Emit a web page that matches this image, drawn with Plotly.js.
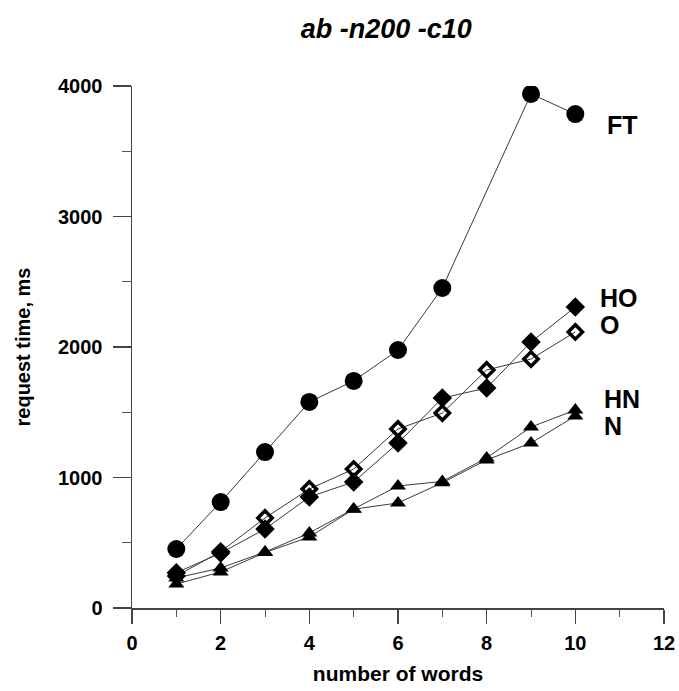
<!DOCTYPE html>
<html>
<head>
<meta charset="utf-8">
<script src="https://cdn.plot.ly/plotly-3.0.1.min.js"></script>
<style>
html, body { margin: 0; padding: 0; background: #fff; }
#chart { width: 679px; height: 691px; }
</style>
</head>
<body>
<div id="chart"></div>
<script>
// Data
var words = [1, 2, 3, 4, 5, 6, 7, 8, 9, 10];
var ftWords = [1, 2, 3, 4, 5, 6, 7, 9, 10];
var ftTime = [452, 812, 1195, 1579, 1740, 1977, 2452, 3939, 3785];
var hoTime = [270, 421, 605, 851, 966, 1264, 1609, 1686, 2038, 2307];
var oTime  = [245, 432, 690, 912, 1065, 1372, 1494, 1824, 1908, 2115];
var hnTime = [230, 307, 429, 575, 759, 935, 970, 1150, 1387, 1517];
var nTime  = [184, 276, 425, 544, 757, 805, 960, 1135, 1264, 1471];

var seriesLabels = ["FT", "HO", "O", "HN", "N"];
var labelX = [10.67, 10.51, 10.51, 10.6, 10.6];
var labelY = [3701, 2375, 2169, 1602, 1395];

var xTicks = [0, 2, 4, 6, 8, 10, 12];
var yTicks = [0, 1000, 2000, 3000, 4000];

var FONT = "Liberation Sans, Arial, sans-serif";
var lineStyle = { color: "#3a3a3a", width: 1 };

var traces = [
  { x: words, y: nTime, name: "N", mode: "lines+markers", line: lineStyle,
    marker: { symbol: "triangle-up", size: 14, color: "#000" } },
  { x: words, y: hnTime, name: "HN", mode: "lines+markers", line: lineStyle,
    marker: { symbol: "triangle-up", size: 14, color: "#000" } },
  { x: words, y: oTime, name: "O", mode: "lines+markers", line: lineStyle,
    marker: { symbol: "diamond-open", size: 11, color: "#000", line: { width: 3.5, color: "#000" } } },
  { x: words, y: hoTime, name: "HO", mode: "lines+markers", line: lineStyle,
    marker: { symbol: "diamond", size: 15, color: "#000" } },
  { x: ftWords, y: ftTime, name: "FT", mode: "lines+markers", line: lineStyle,
    marker: { symbol: "circle", size: 18, color: "#000" } }
];

var annotations = seriesLabels.map(function (t, i) {
  return { x: labelX[i], y: labelY[i], xref: "x", yref: "y", text: t,
    showarrow: false, xanchor: "left", yanchor: "middle",
    font: { family: FONT, size: 25, color: "#000", weight: "bold" } };
});

var layout = {
  width: 679, height: 691,
  margin: { l: 132, r: 15, t: 86, b: 83 },
  paper_bgcolor: "#fff", plot_bgcolor: "#fff",
  showlegend: false,
  font: { family: FONT, color: "#000" },
  title: { text: "<b><i>ab -n200 -c10</i></b>", x: 0.478, xref: "paper", xanchor: "center",
    y: 0.958, yref: "container", yanchor: "middle",
    font: { family: FONT, size: 27, color: "#000" } },
  xaxis: {
    range: [0, 12], tickvals: xTicks, ticktext: xTicks.map(String),
    showgrid: false, zeroline: false, showline: true, linecolor: "#444", linewidth: 1.5,
    ticks: "outside", ticklen: 14, tickwidth: 1.5, tickcolor: "#444",
    ticklabelstandoff: 2,
    minor: { dtick: 1, ticks: "outside", ticklen: 7, tickwidth: 1, tickcolor: "#555", showgrid: false },
    tickfont: { family: FONT, size: 20, color: "#000", weight: "bold" },
    title: { text: "<b>number of words</b>", standoff: 14, font: { family: FONT, size: 21, color: "#000" } }
  },
  yaxis: {
    range: [0, 4000], tickvals: yTicks, ticktext: yTicks.map(String),
    showgrid: false, zeroline: false, showline: true, linecolor: "#444", linewidth: 1.5,
    ticks: "outside", ticklen: 18, tickwidth: 1.5, tickcolor: "#444",
    ticklabelstandoff: 6,
    minor: { dtick: 500, ticks: "outside", ticklen: 9, tickwidth: 1, tickcolor: "#555", showgrid: false },
    tickfont: { family: FONT, size: 20, color: "#000", weight: "bold" },
    title: { text: "<b>request time, ms</b>", standoff: 22, font: { family: FONT, size: 20, color: "#000" } }
  },
  annotations: annotations
};

Plotly.newPlot("chart", traces, layout, { displayModeBar: false, staticPlot: true });
</script>
</body>
</html>
